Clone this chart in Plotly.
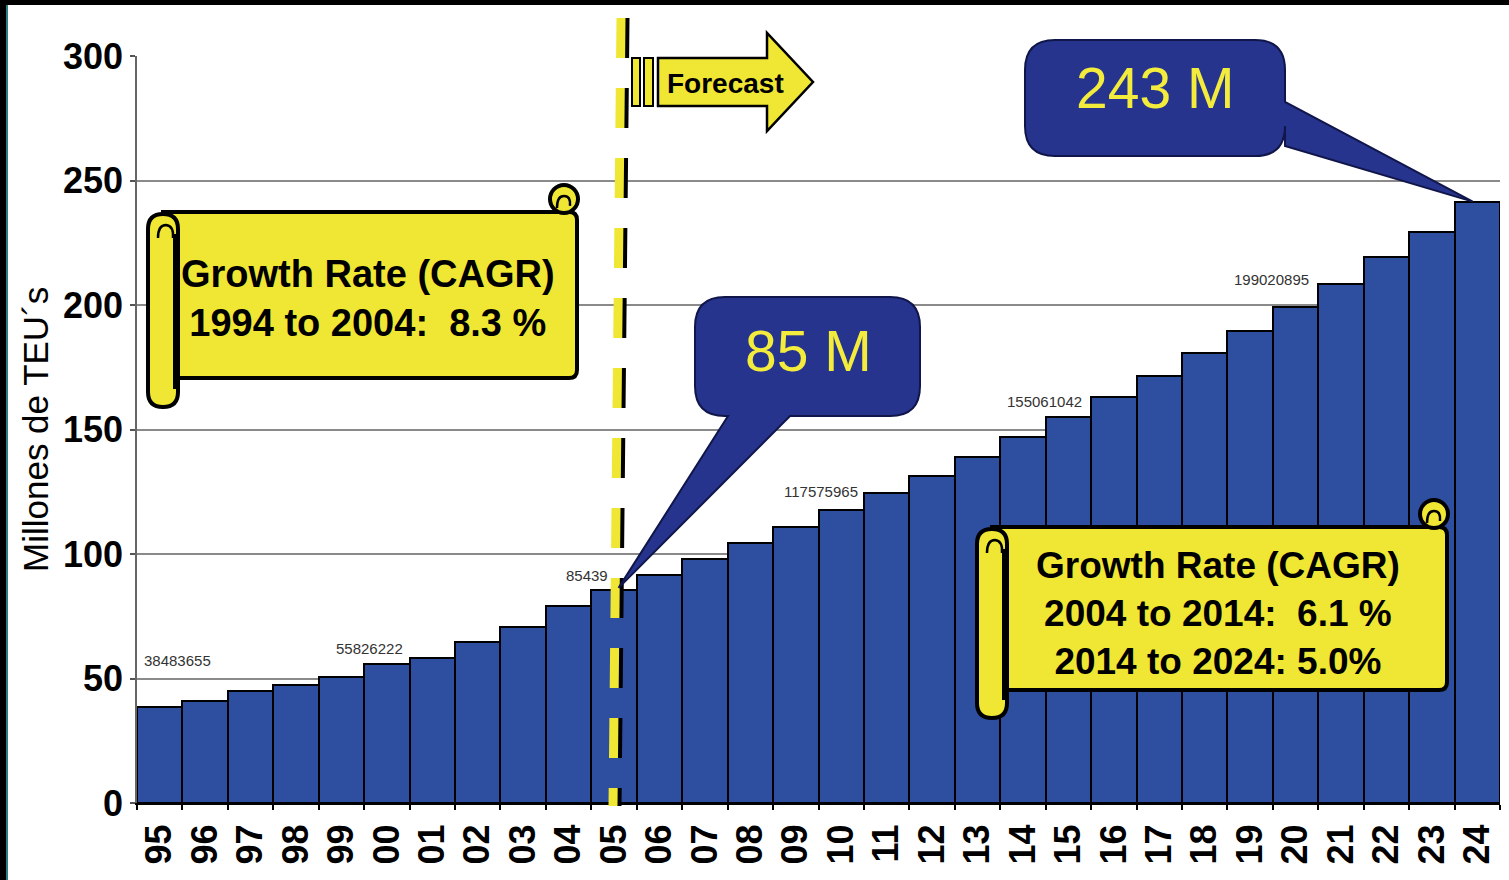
import plotly.graph_objects as go

# ---------------- data ----------------
years = ["95", "96", "97", "98", "99", "00", "01", "02", "03", "04",
         "05", "06", "07", "08", "09", "10", "11", "12", "13", "14",
         "15", "16", "17", "18", "19", "20", "21", "22", "23", "24"]
teu_millions = [38.5, 41.0, 45.0, 47.4, 50.6, 55.8, 58.2, 64.7, 70.7, 79.1,
                85.4, 91.6, 98.0, 104.4, 110.8, 117.6, 124.5, 131.3, 139.0, 147.0,
                155.1, 163.0, 171.5, 180.7, 189.6, 199.0, 208.4, 219.3, 229.3, 241.5]
label_years = ["95", "00", "05", "10", "15", "20"]
label_texts = ["38483655", "55826222", "85439", "117575965", "155061042", "199020895"]
y_ticks = [0, 50, 100, 150, 200, 250, 300]

callout_end_text = "243 M"
callout_2005_text = "85 M"
cagr_1 = ["Growth Rate (CAGR)", "1994 to 2004:\u00a0 8.3 %"]
cagr_2 = ["Growth Rate (CAGR)", "2004 to 2014:\u00a0 6.1 %", "2014 to 2024: 5.0%"]

# ---------------- layout geometry / styles ----------------
FIG_W, FIG_H = 1509, 880
L, R, T, B = 137, 1500, 56, 803
PW, PH = R - L, B - T
N = len(years)
YMAX = 300

BAR_BLUE = "#2E4EA0"
YELLOW = "#EFE733"
NAVY = "#26348E"
FONT = "Liberation Sans, Arial, sans-serif"

label_xshift = [5, -5, -27, -4, -7, -7]
label_yshift = [36, 5, 4, 8, 5, 17]


def px(x):
    return (x - L) / PW


def py(y):
    return (B - y) / PH


def P(x, y):
    return (px(x), py(y))


def D(i, v):
    return ((i + 0.5) / N, v / YMAX)


def build_path(cmds):
    out = []
    for c in cmds:
        if c[0] == "Z":
            out.append("Z")
        elif c[0] == "Q":
            (cx, cy), (x, y) = c[1], c[2]
            out.append(f"Q{cx:.5f},{cy:.5f} {x:.5f},{y:.5f}")
        else:
            x, y = c[1]
            out.append(f"{c[0]}{x:.5f},{y:.5f}")
    return " ".join(out)


def rrect_cmds(x0, y0, x1, y1, r):
    return [("M", P(x0 + r, y0)), ("L", P(x1 - r, y0)), ("Q", P(x1, y0), P(x1, y0 + r)),
            ("L", P(x1, y1 - r)), ("Q", P(x1, y1), P(x1 - r, y1)),
            ("L", P(x0 + r, y1)), ("Q", P(x0, y1), P(x0, y1 - r)),
            ("L", P(x0, y0 + r)), ("Q", P(x0, y0), P(x0 + r, y0)), ("Z",)]


def callout_right(x0, y0, x1, y1, r, a, b, tip):
    return [("M", P(x0 + r, y0)), ("L", P(x1 - r, y0)), ("Q", P(x1, y0), P(x1, y0 + r)),
            ("L", P(x1, a)), ("L", tip), ("L", P(x1, b)),
            ("L", P(x1, y1 - r)), ("Q", P(x1, y1), P(x1 - r, y1)),
            ("L", P(x0 + r, y1)), ("Q", P(x0, y1), P(x0, y1 - r)),
            ("L", P(x0, y0 + r)), ("Q", P(x0, y0), P(x0 + r, y0)), ("Z",)]


def callout_bottom(x0, y0, x1, y1, r, a, b, tip):
    return [("M", P(x0 + r, y0)), ("L", P(x1 - r, y0)), ("Q", P(x1, y0), P(x1, y0 + r)),
            ("L", P(x1, y1 - r)), ("Q", P(x1, y1), P(x1 - r, y1)),
            ("L", P(a, y1)), ("L", tip), ("L", P(b, y1)),
            ("L", P(x0 + r, y1)), ("Q", P(x0, y1), P(x0, y1 - r)),
            ("L", P(x0, y0 + r)), ("Q", P(x0, y0), P(x0 + r, y0)), ("Z",)]


shapes = []


def add_path(cmds, fill=None, color="black", width=2):
    shapes.append(dict(type="path", xref="paper", yref="paper", path=build_path(cmds),
                       fillcolor=fill if fill else "rgba(0,0,0,0)",
                       line=dict(color=color, width=width), layer="above"))


def add_circle(x0, y0, x1, y1, fill, width=4):
    shapes.append(dict(type="circle", xref="paper", yref="paper",
                       x0=px(x0), x1=px(x1), y0=py(y1), y1=py(y0),
                       fillcolor=fill, line=dict(color="black", width=width), layer="above"))


def add_line(x0, y0, x1, y1, color, width, dash="solid"):
    shapes.append(dict(type="line", xref="paper", yref="paper",
                       x0=px(x0), y0=py(y0), x1=px(x1), y1=py(y1),
                       line=dict(color=color, width=width, dash=dash), layer="above"))


def add_scroll(x0, y0, x1, y1, roll_x0, roll_x1, roll_y1):
    # main sheet
    add_path([("M", P(roll_x0 + 15, y0)), ("L", P(x1 - 8, y0)), ("Q", P(x1, y0), P(x1, y0 + 8)),
              ("L", P(x1, y1 - 8)), ("Q", P(x1, y1), P(x1 - 8, y1)),
              ("L", P(roll_x0 + 15, y1)), ("Z",)], fill=YELLOW, width=4)
    # top-right curl
    add_circle(x1 - 27, y0 - 27, x1 + 1, y0 + 1, YELLOW, 4)
    add_path([("M", P(x1 - 20, y0 - 4)), ("Q", P(x1 - 20, y0 - 16), P(x1 - 13, y0 - 16)),
              ("Q", P(x1 - 6, y0 - 16), P(x1 - 7, y0 - 6))], width=2.5)
    # left roll
    add_path(rrect_cmds(roll_x0, y0 + 2, roll_x1, roll_y1, 15), fill=YELLOW, width=4)
    add_path([("M", P(roll_x0 + 10, y0 + 26)), ("Q", P(roll_x0 + 10, y0 + 13), P(roll_x0 + 18, y0 + 13)),
              ("Q", P(roll_x1 - 4, y0 + 14), P(roll_x1 - 5, y0 + 26))], width=2.5)
    add_line(roll_x1 - 2, y0 + 22, roll_x1 - 2, roll_y1 - 18, "black", 6)


# frame of the original slide
shapes.append(dict(type="rect", xref="paper", yref="paper", x0=px(0), x1=px(FIG_W),
                   y0=py(5), y1=py(0), fillcolor="black", line=dict(width=0), layer="above"))
shapes.append(dict(type="rect", xref="paper", yref="paper", x0=px(0), x1=px(6),
                   y0=py(FIG_H), y1=py(0), fillcolor="black", line=dict(width=0), layer="above"))
add_line(7, 5, 7, FIG_H, "#2E7F80", 2)

# forecast divider (dashed yellow with dark shadow)
add_line(625, 18, 617, 806, "black", 9, "40px,30px")
add_line(621, 18, 613, 806, YELLOW, 9, "40px,30px")

# forecast arrow
add_path([("M", P(632, 58)), ("L", P(640, 58)), ("L", P(640, 106)), ("L", P(632, 106)), ("Z",)],
         fill=YELLOW, width=2)
add_path([("M", P(644, 58)), ("L", P(653, 58)), ("L", P(653, 106)), ("L", P(644, 106)), ("Z",)],
         fill=YELLOW, width=2)
add_path([("M", P(658, 58)), ("L", P(767, 58)), ("L", P(767, 33)), ("L", P(813, 82)),
          ("L", P(767, 131)), ("L", P(767, 106)), ("L", P(658, 106)), ("Z",)], fill=YELLOW, width=2.5)

# callouts
i05 = years.index("05")
i24 = years.index("24")
add_path(callout_bottom(695, 297, 920, 416, 30, 790, 728, D(i05 + 0.1, teu_millions[i05] + 1)),
         fill=NAVY, color="#10164A", width=2)
add_path(callout_right(1025, 40, 1285, 156, 30, 102, 146, D(i24 - 0.1, teu_millions[i24])),
         fill=NAVY, color="#10164A", width=2)

# scrolls
add_scroll(170, 212, 577, 378, 148, 178, 407)
add_scroll(1000, 527, 1447, 690, 977, 1007, 718)

# ---------------- annotations ----------------
annotations = []
for k, (yr, txt) in enumerate(zip(label_years, label_texts)):
    i = years.index(yr)
    first = (k == 0)
    annotations.append(dict(
        x=(i - 0.5) if first else (i + 0.5), y=teu_millions[i], xref="x", yref="y",
        text=txt, showarrow=False, xanchor="left" if first else "right", yanchor="bottom",
        xshift=label_xshift[k], yshift=label_yshift[k],
        font=dict(family=FONT, size=15, color="#333333")))


def paper_text(x, y, text, size, color="black", angle=0):
    annotations.append(dict(x=px(x), y=py(y), xref="paper", yref="paper", text=text,
                            showarrow=False, xanchor="center", yanchor="middle",
                            align="center", textangle=angle,
                            font=dict(family=FONT, size=size, color=color)))


paper_text(725, 83, "<b>Forecast</b>", 28)
paper_text(1155, 88, callout_end_text, 57, "#F4EC3C")
paper_text(808, 351, callout_2005_text, 57, "#F4EC3C")
paper_text(368, 298, "<b>" + "<br>".join(cagr_1) + "</b>", 38)
paper_text(1218, 613, "<b>" + "<br>".join(cagr_2) + "</b>", 37)
paper_text(35, 430, "Millones de TEU´s", 35, angle=-90)

# ---------------- figure ----------------
fig = go.Figure(go.Bar(
    x=list(range(N)), y=teu_millions, width=1.0,
    marker=dict(color=BAR_BLUE, line=dict(color="black", width=2)),
    hoverinfo="skip"))

fig.update_layout(
    width=FIG_W, height=FIG_H,
    margin=dict(l=L, r=FIG_W - R, t=T, b=FIG_H - B, pad=0),
    paper_bgcolor="white", plot_bgcolor="white",
    bargap=0, showlegend=False,
    shapes=shapes, annotations=annotations,
    xaxis=dict(range=[-0.5, N - 0.5], tickvals=list(range(N)), ticktext=years,
               tickangle=-90, ticks="", showgrid=False, zeroline=False,
               showline=True, linecolor="black", linewidth=2,
               ticklabelstandoff=5,
               tickfont=dict(family=FONT, size=36, color="black", weight="bold"),
               minor=dict(tickvals=[i - 0.5 for i in range(N + 1)], ticks="outside",
                          ticklen=5, tickwidth=2, tickcolor="black", showgrid=False)),
    yaxis=dict(range=[0, YMAX], tickvals=y_ticks, ticks="outside", ticklen=5,
               tickcolor="#555", tickwidth=1.5,
               showgrid=True, gridcolor="#8a8a8a", gridwidth=1.5, zeroline=False,
               showline=True, linecolor="#666", linewidth=1.5,
               tickfont=dict(family=FONT, size=36, color="black", weight="bold")),
)

fig.write_html("out.html", config={"displayModeBar": False},
               post_script="document.body.style.margin='0';")
